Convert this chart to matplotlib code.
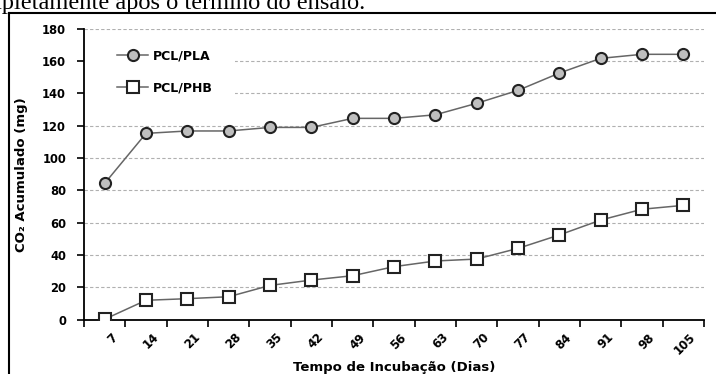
import matplotlib
matplotlib.use("Agg")
import matplotlib.pyplot as plt
import matplotlib.transforms as mtransforms
from matplotlib.lines import Line2D
from matplotlib.patches import Rectangle

plt.rcParams['font.family'] = ['DejaVu Sans']

dias = ['7', '14', '21', '28', '35', '42', '49', '56', '63', '70', '77', '84', '91', '98', '105']
pcl_pla = [84.3, 115.2, 116.7, 116.7, 118.9, 118.9, 124.5, 124.5, 126.7, 133.8, 141.8, 152.5, 161.6, 164.1, 164.1]
pcl_phb = [0.3, 12.0, 13.0, 14.2, 21.2, 24.5, 27.2, 32.8, 36.3, 37.5, 44.1, 52.4, 61.6, 68.3, 70.7]
yticks = [0, 20, 40, 60, 80, 100, 120, 140, 160, 180]

W, H = 716, 374
fig = plt.figure(figsize=(W / 100, H / 100), dpi=100)
ax = fig.add_axes([84 / W, 1 - 319.7 / H, (704 - 84) / W, (319.7 - 28.6) / H])

x = list(range(len(dias)))
ax.plot(x, pcl_pla, color='#666666', lw=1.1, marker='o', markersize=8,
        markerfacecolor='#bfbfbf', markeredgecolor='#222222', markeredgewidth=1.5,
        label='PCL/PLA', zorder=3)
ax.plot(x, pcl_phb, color='#666666', lw=1.1, marker='s', markersize=8.5,
        markerfacecolor='white', markeredgecolor='#222222', markeredgewidth=1.5,
        label='PCL/PHB', zorder=3)

ax.set_xlim(-0.5, len(dias) - 0.5)
ax.set_ylim(0, 180)
ax.set_yticks(yticks)
ax.set_yticklabels([str(v) for v in yticks], fontsize=8.3, fontweight='bold')
ax.yaxis.grid(True, linestyle=(0, (3, 2)), color='#b0b0b0', lw=0.8, zorder=0)
ax.set_axisbelow(True)

# category boundaries as ticks, labels at centers
ax.set_xticks([i - 0.5 for i in range(len(dias) + 1)])
ax.set_xticklabels([''] * (len(dias) + 1))
ax.set_xticks(x, minor=True)
ax.set_xticklabels(dias, minor=True, rotation=45, ha='right', va='top',
                   rotation_mode='anchor', fontsize=8.5, fontweight='bold')
ax.tick_params(axis='x', which='major', direction='out', length=5, width=1.2)
ax.tick_params(axis='x', which='minor', length=0, pad=8)
offset = mtransforms.ScaledTranslation(6 / 100, 0, fig.dpi_scale_trans)
for lbl in ax.get_xticklabels(minor=True):
    lbl.set_transform(lbl.get_transform() + offset)
ax.tick_params(axis='y', direction='out', length=5, width=1.2, pad=8)

for s in ['top', 'right']:
    ax.spines[s].set_visible(False)
for s in ['left', 'bottom']:
    ax.spines[s].set_linewidth(1.3)
    ax.spines[s].set_color('black')

ax.set_xlabel('Tempo de Incubação (Dias)', fontsize=9.5, fontweight='bold', labelpad=3)
ax.set_ylabel('CO\u2082 Acumulado (mg)', fontsize=9.5, fontweight='bold', labelpad=10)

# white area behind the legend (hides gridlines there)
ax.add_patch(Rectangle((0, 130), 0.2435, 40, transform=ax.get_yaxis_transform(),
                       facecolor='white', edgecolor='none', zorder=1))
ax.legend(loc='upper left', bbox_to_anchor=(0.0532, 0.9285), frameon=False,
          prop={'size': 9, 'weight': 'bold'}, handlelength=2.5,
          labelspacing=1.52, borderaxespad=0, borderpad=0, handletextpad=0.4)

# outer border lines
fig.add_artist(Line2D([9 / W, 9 / W], [0, 1 - 12.5 / H], transform=fig.transFigure,
                      color='black', lw=1.5))
fig.add_artist(Line2D([9 / W, 1], [1 - 12.5 / H, 1 - 12.5 / H], transform=fig.transFigure,
                      color='black', lw=1.5))

# cut-off text from document above
fig.text(365 / W, 1 - 8.5 / H, 'completamente após o término do ensaio.', ha='right',
         va='baseline', fontsize=17.6, family='Liberation Serif')

fig.savefig('out.png', dpi=100)
